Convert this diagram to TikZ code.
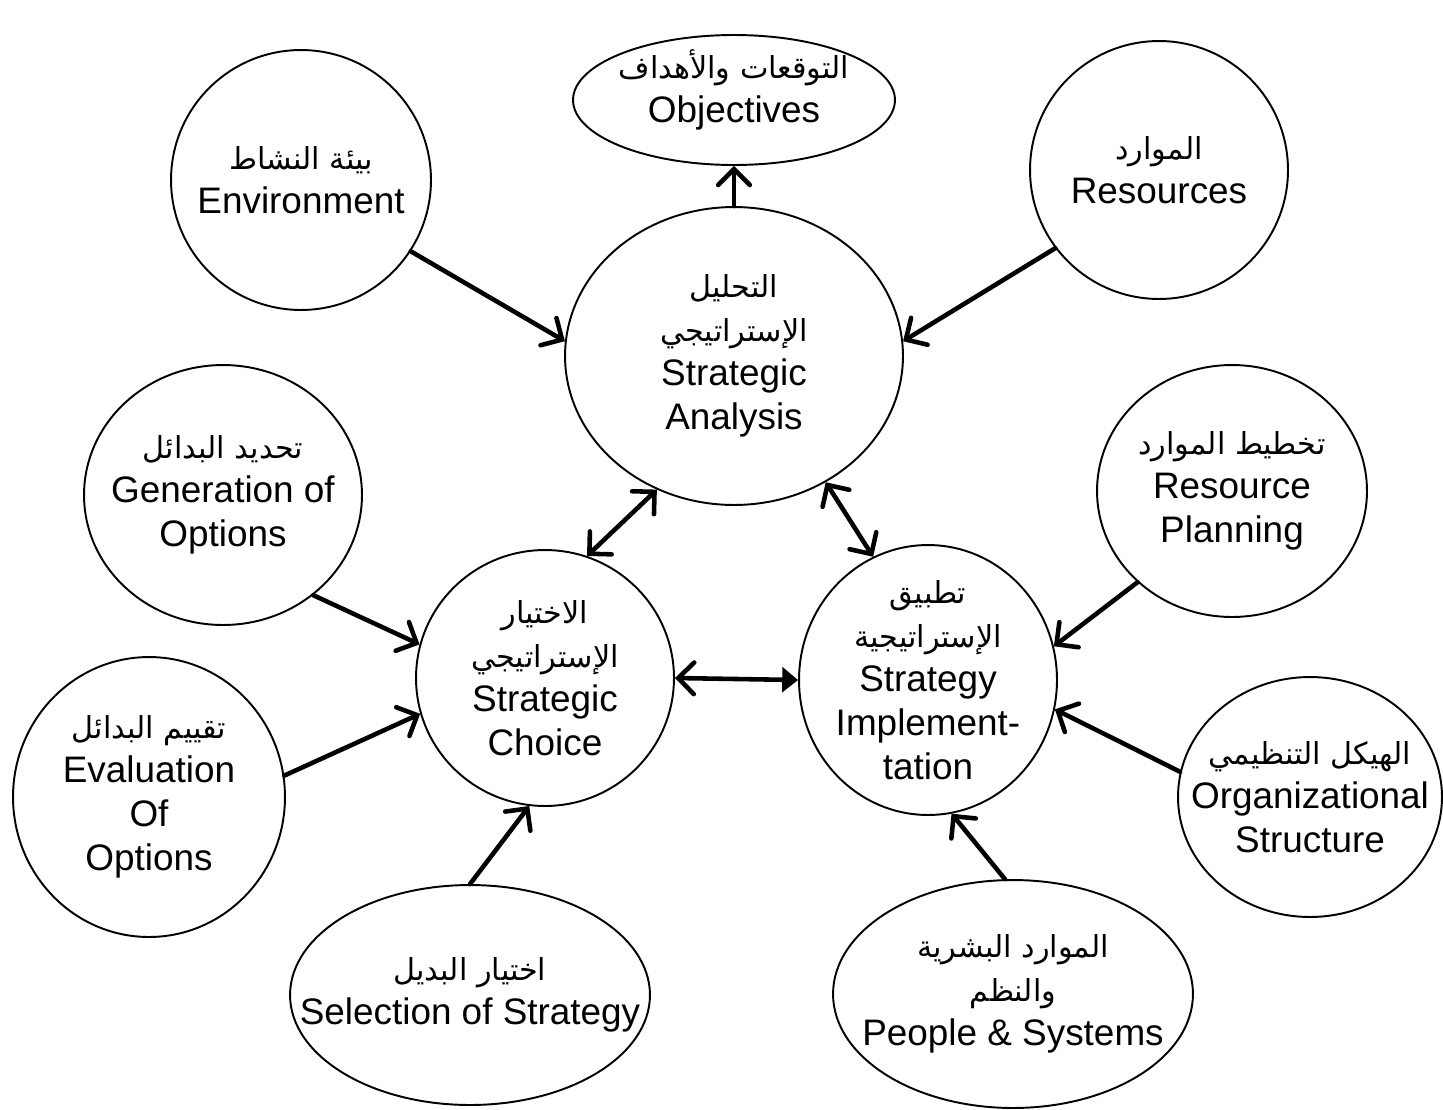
\documentclass[tikz,border=0pt]{standalone}
\usepackage{fontspec}
\setmainfont{Liberation Sans}
\newfontfamily\arabicfont[Script=Arabic,Scale=0.82]{DejaVu Sans}
\TeXXeTstate=1
\usetikzlibrary{arrows.meta}
\usetikzlibrary{shapes.geometric}

\tikzset{
  bub/.style={draw, ellipse, line width=1.1pt, inner sep=0pt},
  txt/.style={align=center, inner sep=0pt, font=\fontsize{21}{25}\selectfont},
  arr/.style={line width=2.6pt, line cap=round,
    -{Straight Barb[length=9pt,width=18pt,line cap=round]}},
  dbl/.style={line width=2.6pt, line cap=round,
    {Straight Barb[length=9pt,width=18pt,line cap=round]}-{Straight Barb[length=9pt,width=18pt,line cap=round]}}
}

\begin{document}
\begin{tikzpicture}[x=0.02cm, y=-0.02cm]
\useasboundingbox (0,0) rectangle (1443,1109);

% centre
\node [bub, minimum width=6.76cm, minimum height=5.96cm,
  label={[txt]center:{{\arabicfont\beginR التحليل\endR}\\ {\arabicfont\beginR الإستراتيجي\endR}\\ Strategic\\ Analysis}}]
  (ana) at (734,356) {};
\node [bub, minimum width=5.16cm, minimum height=5.12cm,
  label={[txt]center:{{\arabicfont\beginR الاختيار\endR}\\ {\arabicfont\beginR الإستراتيجي\endR}\\ Strategic\\ Choice}}]
  (cho) at (545,678) {};
\node [bub, minimum width=5.16cm, minimum height=5.4cm,
  label={[txt]center:{{\arabicfont\beginR تطبيق\endR}\\ {\arabicfont\beginR الإستراتيجية\endR}\\ Strategy\\ Implement-\\ tation}}]
  (imp) at (928,680) {};

% analysis
\node [bub, minimum width=6.44cm, minimum height=2.6cm,
  label={[txt, yshift=6pt]center:{{\arabicfont\beginR التوقعات والأهداف\endR}\\ Objectives}}]
  (obj) at (734,100) {};
\node [bub, minimum width=5.2cm, minimum height=5.2cm,
  label={[txt]center:{{\arabicfont\beginR بيئة النشاط\endR}\\ Environment}}]
  (env) at (301,180) {};
\node [bub, minimum width=5.16cm, minimum height=5.16cm,
  label={[txt]center:{{\arabicfont\beginR الموارد\endR}\\ Resources}}]
  (res) at (1159,170) {};

% choice
\node [bub, minimum width=5.56cm, minimum height=5.2cm,
  label={[txt]center:{{\arabicfont\beginR تحديد البدائل\endR}\\ Generation of\\ Options}}]
  (gen) at (223,495) {};
\node [bub, minimum width=5.44cm, minimum height=5.6cm,
  label={[txt]center:{{\arabicfont\beginR تقييم البدائل\endR}\\ Evaluation\\ Of\\ Options}}]
  (eva) at (149,797) {};
\node [bub, minimum width=7.2cm, minimum height=4.4cm,
  label={[txt]center:{{\arabicfont\beginR اختيار البديل\endR}\\ Selection of Strategy}}]
  (sel) at (470,995) {};

% implementation
\node [bub, minimum width=5.4cm, minimum height=5.04cm,
  label={[txt]center:{{\arabicfont\beginR تخطيط الموارد\endR}\\ Resource\\ Planning}}]
  (rpl) at (1232,491) {};
\node [bub, minimum width=5.28cm, minimum height=4.8cm,
  label={[txt]center:{{\arabicfont\beginR الهيكل التنظيمي\endR}\\ Organizational\\ Structure}}]
  (org) at (1310,797) {};
\node [bub, minimum width=7.2cm, minimum height=4.56cm,
  label={[txt]center:{{\arabicfont\beginR الموارد البشرية\endR}\\ {\arabicfont\beginR والنظم\endR}\\ People \& Systems}}]
  (ppl) at (1013,994) {};

\draw [arr] (ana.north) -- (obj.south);
\draw [arr] (env.-33) -- (ana.175);
\draw [arr] (res.-143) -- (ana.5);
\draw [dbl] (ana.-120) -- (cho.71);
\draw [dbl] (ana.-54) -- (imp.114);
\draw [line width=2.6pt, line cap=round,
  {Straight Barb[length=9pt,width=18pt,line cap=round]}-{Triangle[length=9pt,width=14pt]}]
  (cho.east) -- (imp.west);

\draw [arr] (gen.-48) -- (cho.165);
\draw [arr] (eva.9) -- (cho.-164);
\draw [arr] (sel.90) -- (cho.-97);

\draw [arr] (rpl.-136) -- (imp.15);
\draw [arr] (org.169) -- (imp.-13);
\draw [arr] (ppl.94) -- (imp.-80);
\end{tikzpicture}
\end{document}
